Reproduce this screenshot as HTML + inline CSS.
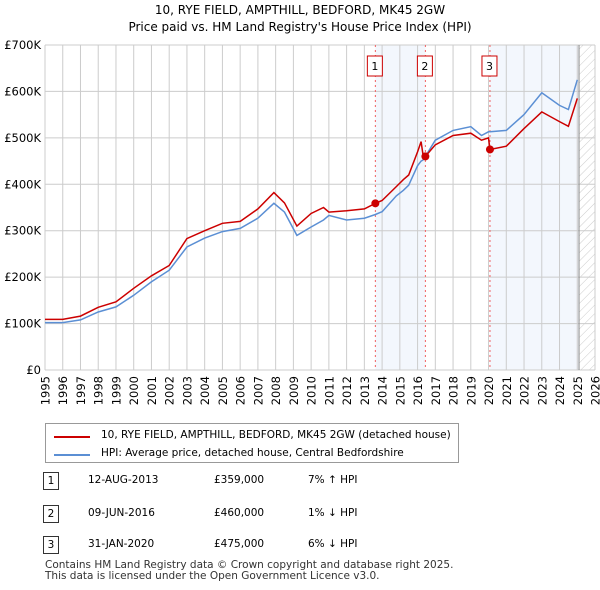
<!DOCTYPE html>
<html><head><meta charset="utf-8"><style>
body{margin:0;width:600px;height:590px;background:#fff;font-family:"DejaVu Sans","Liberation Sans",sans-serif;overflow:hidden;position:relative}
.t{position:absolute;font-size:12px;color:#000}
svg text{font-family:"DejaVu Sans","Liberation Sans",sans-serif}
</style></head><body>
<svg id="c" width="600" height="410" style="position:absolute;left:0;top:0">
<defs><pattern id="h" width="6" height="6" patternUnits="userSpaceOnUse" patternTransform="rotate(45)"><line x1="0" y1="0" x2="0" y2="6" stroke="#ccc" stroke-width="1"/></pattern></defs>
<text x="300" y="14" text-anchor="middle" font-size="12">10, RYE FIELD, AMPTHILL, BEDFORD, MK45 2GW</text>
<text x="300" y="31" text-anchor="middle" font-size="12">Price paid vs. HM Land Registry's House Price Index (HPI)</text>
<g id="g"></g>
</svg>
<div style="position:absolute;left:45px;top:423px;width:412px;height:38px;border:1px solid #999;font-size:10.5px">
<div style="position:absolute;left:8px;top:12px;width:36px;height:2px;background:#cc0000"></div><div style="position:absolute;left:55px;top:5px">10, RYE FIELD, AMPTHILL, BEDFORD, MK45 2GW (detached house)</div>
<div style="position:absolute;left:8px;top:30px;width:36px;height:2px;background:#5b8fd4"></div><div style="position:absolute;left:55px;top:23px">HPI: Average price, detached house, Central Bedfordshire</div>
</div>
<div id="tbl" style="font-size:10.5px"></div>
<div class="t" style="left:45px;top:560px;font-size:10.5px;color:#333;line-height:11px">Contains HM Land Registry data © Crown copyright and database right 2025.<br>This data is licensed under the Open Government Licence v3.0.</div>
<script>
const dates=[1995,1996,1997,1998,1999,2000,2001,2002,2003,2004,2005,2006,2007,2007.9,2008.5,2009.2,2010,2010.7,2011,2012,2013,2013.62,2014,2014.8,2015.2,2015.5,2016,2016.2,2016.3,2016.44,2017,2018,2019,2019.6,2020,2020.08,2021,2022,2023,2024,2024.5,2025];
const hpiValues=[102,102,108,125,136,161,190,215,265,284,298,305,327,359,340,290,308,323,333,323,327,335,341,375,387,398,440,450,452,460,495,516,524,505,513,513,516,550,597,570,561,625];
const propValues=[109,109,116,135,147,176,203,225,283,300,316,320,347,382,360,310,337,350,340,343,347,359,365,395,410,420,470,492,465,460,485,505,510,495,500,475,482,520,556,535,525,585];
const saleDates=[2013.62,2016.44,2020.08];
const salePrices=[359,460,475];
const saleLabels=["12-AUG-2013","09-JUN-2016","31-JAN-2020"];
const salePriceText=["£359,000","£460,000","£475,000"];
const saleHpiText=["7% ↑ HPI","1% ↓ HPI","6% ↓ HPI"];
const yTicks=[0,100,200,300,400,500,600,700];
const yTickLabels=["£0","£100K","£200K","£300K","£400K","£500K","£600K","£700K"];
const xTicks=[1995,1996,1997,1998,1999,2000,2001,2002,2003,2004,2005,2006,2007,2008,2009,2010,2011,2012,2013,2014,2015,2016,2017,2018,2019,2020,2021,2022,2023,2024,2025,2026];
const X0=45,X1=595,Y0=370,Y1=45;
const x=d=>X0+(d-1995)*(X1-X0)/31;
const y=v=>Y0-v*(Y0-Y1)/700;
const g=document.getElementById('g');
const NS='http://www.w3.org/2000/svg';
function mk(t,a){const e=document.createElementNS(NS,t);for(const k in a)e.setAttribute(k,a[k]);g.appendChild(e);return e;}
let e;
e=mk('rect',{x:x(saleDates[0]),y:Y1,width:x(saleDates[1])-x(saleDates[0]),height:Y0-Y1,fill:'#eef3fc',opacity:0.7});


e=mk('rect',{x:x(saleDates[2]),y:Y1,width:x(2025.1)-x(saleDates[2]),height:Y0-Y1,fill:'#eef3fc',opacity:0.7});


e=mk('rect',{x:x(2025.1),y:Y1,width:X1-x(2025.1),height:Y0-Y1,fill:'url(#h)'});


yTicks.forEach((v,i)=>{
 e=mk('line',{x1:X0,x2:X1,y1:y(v),y2:y(v),stroke:'#ccc'});
 
 
 e=mk('text',{x:41,y:y(v)+4,'text-anchor':'end','font-size':11.5});e.textContent=yTickLabels[i];
 
 
});
xTicks.forEach(d=>{
 e=mk('line',{x1:x(d),x2:x(d),y1:Y1,y2:Y0,stroke:'#ccc'});
 
 
 e=mk('text',{x:0,y:0,'text-anchor':'end','font-size':11.5,transform:'translate('+(x(d)+4.5)+',376) rotate(-90)'});e.textContent=d;
 
 
});
e=mk('line',{x1:x(2025.1),x2:x(2025.1),y1:Y1,y2:Y0,stroke:'#888'});


saleDates.forEach((d,i)=>{
 e=mk('line',{x1:x(d),x2:x(d),y1:Y1,y2:Y0,stroke:'#f06060','stroke-dasharray':'2,3'});
 
 
 e=mk('rect',{x:x(d)-8,y:56,width:15,height:20,fill:'#fff',stroke:'#cc0000'});
 
 
 e=mk('text',{x:x(d)-0.5,y:70,'text-anchor':'middle','font-size':11});e.textContent=i+1;
 
 
});
const pts=a=>a.map((v,i)=>x(dates[i]).toFixed(1)+','+y(v).toFixed(1)).join(' ');
e=mk('polyline',{points:pts(hpiValues),fill:'none',stroke:'#5b8fd4','stroke-width':1.5});


e=mk('polyline',{points:pts(propValues),fill:'none',stroke:'#cc0000','stroke-width':1.5});


saleDates.forEach((d,i)=>{
 e=mk('circle',{cx:x(d),cy:y(salePrices[i]),r:4,fill:'#cc0000'});
 
 
});
const tbl=document.getElementById('tbl');
[481,514,545].forEach((ty,i)=>{
 const r=document.createElement('div');
 
 
 r.style.cssText='position:absolute;left:0;top:'+(ty-9)+'px;width:600px;height:18px';
 r.innerHTML='<div style="position:absolute;left:43px;top:0;width:14px;height:16px;border:1px solid #333;text-align:center;line-height:16px">'+(i+1)+'</div><div style="position:absolute;left:88px;top:2px">'+saleLabels[i]+'</div><div style="position:absolute;left:214px;top:2px">'+salePriceText[i]+'</div><div style="position:absolute;left:308px;top:2px">'+saleHpiText[i]+'</div>';
 tbl.appendChild(r);
});
</script>
</body></html>
